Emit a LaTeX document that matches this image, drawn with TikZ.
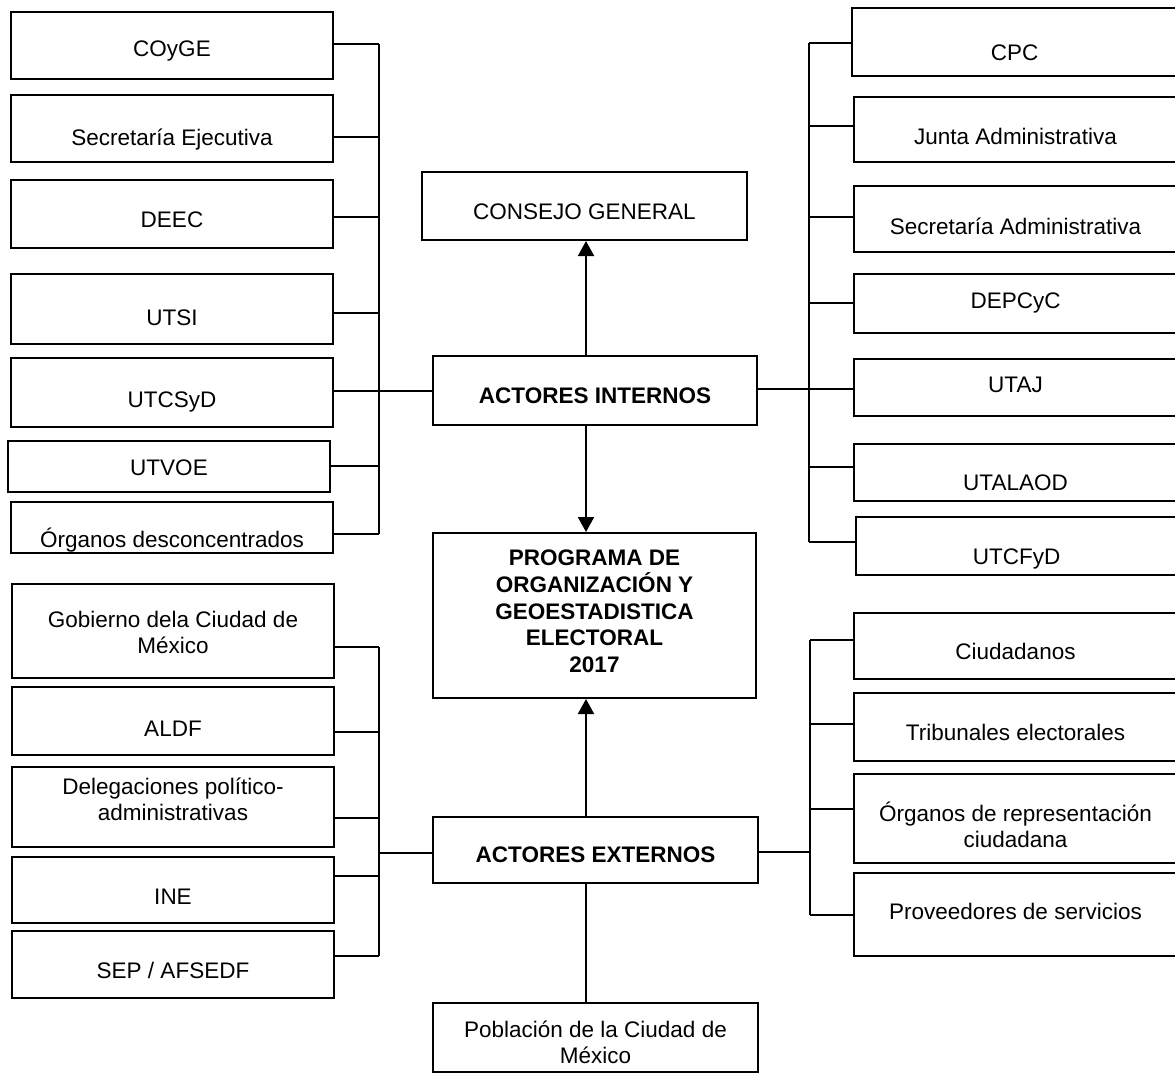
\documentclass[tikz,border=0pt]{standalone}
\usepackage{fontspec}
\setmainfont{Liberation Sans}
\usetikzlibrary{arrows.meta}
\newcommand{\mlines}[1]{\begin{tabular}[t]{@{}c@{}}#1\end{tabular}}
\begin{document}
\begin{tikzpicture}[x=1pt,y=-1pt,
  box/.style={draw, line width=2pt, inner sep=0pt, anchor=base,
    font=\fontsize{22.5}{26.5}\selectfont},
  bbox/.style={box, font=\fontsize{22.5}{26.5}\selectfont\bfseries},
  conn/.style={line width=2pt},
  arr/.style={line width=2pt, -{Triangle[width=16pt,length=15pt]}}]
\useasboundingbox (0,0) rectangle (1175,1074);

% ---- left upper column
\node[box, minimum width=322pt, text height=44pt, text depth=23pt] (coyge) at (172,56) {COyGE};
\node[box, minimum width=322pt, text height=50pt, text depth=17pt] (secej) at (172,145) {Secretaría Ejecutiva};
\node[box, minimum width=322pt, text height=47pt, text depth=21pt] (deec) at (172,227) {DEEC};
\node[box, minimum width=322pt, text height=51pt, text depth=19pt] (utsi) at (172,325) {UTSI};
\node[box, minimum width=322pt, text height=49pt, text depth=20pt] (utcsyd) at (172,407) {UTCSyD};
\node[box, minimum width=322pt, text height=34pt, text depth=17pt] (utvoe) at (169,475) {UTVOE};
\node[box, minimum width=322pt, text height=45pt, text depth=6pt] (orgdes) at (172,547) {Órganos desconcentrados};

% ---- right upper column
\node[box, minimum width=325pt, text height=52pt, text depth=16pt] (cpc) at (1014.5,60) {CPC};
\node[box, minimum width=323pt, text height=47pt, text depth=18pt] (junta) at (1015.5,144) {Junta Administrativa};
\node[box, minimum width=323pt, text height=48pt, text depth=18pt] (secadm) at (1015.5,234) {Secretaría Administrativa};
\node[box, minimum width=323pt, text height=34pt, text depth=25pt] (depcyc) at (1015.5,308) {DEPCyC};
\node[box, minimum width=323pt, text height=33pt, text depth=24pt] (utaj) at (1015.5,392) {UTAJ};
\node[box, minimum width=323pt, text height=46pt, text depth=11pt] (utalaod) at (1015.5,490) {UTALAOD};
\node[box, minimum width=321pt, text height=47pt, text depth=11pt] (utcfyd) at (1016.5,564) {UTCFyD};

% ---- centre column
\node[box, minimum width=325pt, text height=47pt, text depth=21pt] (consejo) at (584.5,219) {CONSEJO GENERAL};
\node[bbox, minimum width=324pt, text height=47pt, text depth=22pt] (actint) at (595,403) {ACTORES INTERNOS};
\node[bbox, minimum width=323pt, text height=32pt, text depth=133pt] (programa) at (594.5,565)
  {\mlines{PROGRAMA DE\\ORGANIZACIÓN Y\\GEOESTADISTICA\\ELECTORAL\\2017}};
\node[bbox, minimum width=325pt, text height=45pt, text depth=21pt] (actext) at (595.5,862) {ACTORES EXTERNOS};
\node[box, minimum width=325pt, text height=34pt, text depth=35pt] (poblacion) at (595.5,1037)
  {\mlines{Población de la Ciudad de\\México}};

% ---- left lower column
\node[box, minimum width=322pt, text height=43pt, text depth=51pt] (gobierno) at (173,627)
  {\mlines{Gobierno dela Ciudad de\\México}};
\node[box, minimum width=322pt, text height=49pt, text depth=19pt] (aldf) at (173,736) {ALDF};
\node[box, minimum width=322pt, text height=27pt, text depth=53pt] (delegaciones) at (173,794)
  {\mlines{Delegaciones político-\\administrativas}};
\node[box, minimum width=322pt, text height=47pt, text depth=19pt] (ine) at (173,904) {INE};
\node[box, minimum width=322pt, text height=47pt, text depth=20pt] (sep) at (173,978) {SEP / AFSEDF};

% ---- right lower column
\node[box, minimum width=323pt, text height=46pt, text depth=20pt] (ciudadanos) at (1015.5,659) {Ciudadanos};
\node[box, minimum width=323pt, text height=47pt, text depth=21pt] (tribunales) at (1015.5,740) {Tribunales electorales};
\node[box, minimum width=323pt, text height=47pt, text depth=42pt] (orgrep) at (1015.5,821)
  {\mlines{Órganos de representación\\ciudadana}};
\node[box, minimum width=323pt, text height=46pt, text depth=37pt] (proveedores) at (1015.5,919) {Proveedores de servicios};

% ---- bus coordinates
\coordinate (ax) at (586,0);
\coordinate (L1) at (379,44);  \coordinate (L2) at (379,137); \coordinate (L3) at (379,217);
\coordinate (L4) at (379,313); \coordinate (L5) at (379,391); \coordinate (L6) at (379,466);
\coordinate (L7) at (379,534);
\coordinate (R1) at (809,43);  \coordinate (R2) at (809,126); \coordinate (R3) at (809,217);
\coordinate (R4) at (809,303); \coordinate (R5) at (809,389); \coordinate (R6) at (809,467);
\coordinate (R7) at (809,542);
\coordinate (M1) at (379,647); \coordinate (M2) at (379,732); \coordinate (M3) at (379,818);
\coordinate (M4) at (379,853); \coordinate (M5) at (379,876); \coordinate (M6) at (379,956);
\coordinate (N1) at (810,640); \coordinate (N2) at (810,724); \coordinate (N3) at (810,809);
\coordinate (N4) at (810,852); \coordinate (N5) at (810,915);

% ---- left upper bus
\draw[conn] (L1) -- (L7);
\draw[conn] (coyge.east |- L1) -- (L1);
\draw[conn] (secej.east |- L2) -- (L2);
\draw[conn] (deec.east |- L3) -- (L3);
\draw[conn] (utsi.east |- L4) -- (L4);
\draw[conn] (utcsyd.east |- L5) -- (L5);
\draw[conn] (utvoe.east |- L6) -- (L6);
\draw[conn] (orgdes.east |- L7) -- (L7);
\draw[conn] (L5) -- (actint.west |- L5);

% ---- right upper bus
\draw[conn] (R1) -- (R7);
\draw[conn] (cpc.west |- R1) -- (R1);
\draw[conn] (junta.west |- R2) -- (R2);
\draw[conn] (secadm.west |- R3) -- (R3);
\draw[conn] (depcyc.west |- R4) -- (R4);
\draw[conn] (utaj.west |- R5) -- (R5);
\draw[conn] (utalaod.west |- R6) -- (R6);
\draw[conn] (utcfyd.west |- R7) -- (R7);
\draw[conn] (actint.east |- R5) -- (R5);

% ---- left lower bus
\draw[conn] (M1) -- (M6);
\draw[conn] (gobierno.east |- M1) -- (M1);
\draw[conn] (aldf.east |- M2) -- (M2);
\draw[conn] (delegaciones.east |- M3) -- (M3);
\draw[conn] (ine.east |- M5) -- (M5);
\draw[conn] (sep.east |- M6) -- (M6);
\draw[conn] (M4) -- (actext.west |- M4);

% ---- right lower bus
\draw[conn] (N1) -- (N5);
\draw[conn] (ciudadanos.west |- N1) -- (N1);
\draw[conn] (tribunales.west |- N2) -- (N2);
\draw[conn] (orgrep.west |- N3) -- (N3);
\draw[conn] (proveedores.west |- N5) -- (N5);
\draw[conn] (actext.east |- N4) -- (N4);

% ---- centre arrows
\draw[arr] (actint.north -| ax) -- (consejo.south -| ax);
\draw[arr] (actint.south -| ax) -- (programa.north -| ax);
\draw[arr] (actext.north -| ax) -- (programa.south -| ax);
\draw[conn] (actext.south -| ax) -- (poblacion.north -| ax);
\end{tikzpicture}
\end{document}
